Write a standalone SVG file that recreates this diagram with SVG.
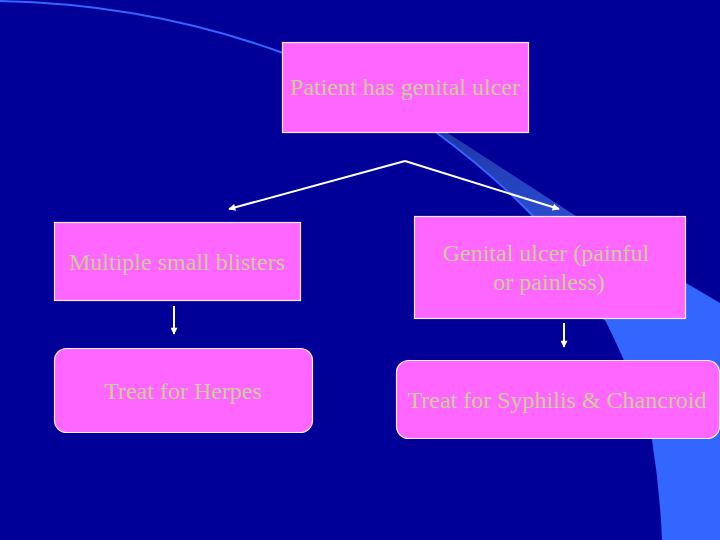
<svg xmlns="http://www.w3.org/2000/svg" width="720" height="540" viewBox="0 0 720 540">
<defs>
<style>
.box{fill:#FF66FF;stroke:#F4E8F4;stroke-width:1.2}
.lbl{font-family:"Liberation Serif","Times New Roman",serif;font-size:24px;fill:#CCCC99;text-anchor:middle}
.conn{stroke:#FFFFFF;stroke-width:2;fill:none;marker-end:url(#ah)}
</style>
<marker id="ah" viewBox="0 0 10 10" refX="9" refY="5" markerWidth="4" markerHeight="3.5" orient="auto" markerUnits="strokeWidth">
<path d="M0,0 L10,5 L0,10 z" fill="#FFFFFF"/>
</marker>
<linearGradient id="sw" x1="0" y1="0" x2="0" y2="1" gradientUnits="objectBoundingBox">
<stop offset="0" stop-color="#1E36A8"/>
<stop offset="0.22" stop-color="#2A4CCF"/>
<stop offset="0.38" stop-color="#3366FF"/>
<stop offset="1" stop-color="#3366FF"/>
</linearGradient>
</defs>
<rect width="720" height="540" fill="#000099"/>
<g id="swoosh">
<path d="M0,1 Q150,4 286,54" fill="none" stroke="#3366FF" stroke-width="2"/>
<path d="M433,130 Q490,172 532,215 Q580,265 605,320 Q640,390 652,440 Q660,490 662,540 L720,540 L720,303 L686,283 Q630,250 576,216 Q505,170 443,130 Z" fill="url(#sw)"/>
<path d="M433,130 Q490,172 532,215 Q580,265 605,320" fill="none" stroke="#3366FF" stroke-width="2"/>
</g>
<g id="connectors">
<path class="conn" d="M405,161 L229,209"/>
<path class="conn" d="M405,161 L559,209"/>
<path class="conn" d="M174,306 L174,334"/>
<path class="conn" d="M564,323 L564,347"/>
</g>
<g id="n-patient">
<rect class="box" x="282.5" y="42.5" width="246" height="90"/>
<text class="lbl" x="405" y="95">Patient has genital ulcer</text>
</g>
<g id="n-blisters">
<rect class="box" x="54.5" y="222.5" width="246" height="78"/>
<text class="lbl" x="177" y="270">Multiple small blisters</text>
</g>
<g id="n-ulcer">
<rect class="box" x="414.5" y="216.5" width="271" height="102"/>
<text class="lbl" x="546" y="261">Genital ulcer (painful</text>
<text class="lbl" x="549" y="290">or painless)</text>
</g>
<g id="n-herpes">
<rect class="box" x="54.5" y="348.5" width="258" height="84" rx="12"/>
<text class="lbl" x="183" y="399">Treat for Herpes</text>
</g>
<g id="n-syphilis">
<rect class="box" x="396.5" y="360.5" width="323" height="78" rx="12"/>
<text class="lbl" x="557" y="408">Treat for Syphilis &amp; Chancroid</text>
</g>
</svg>
